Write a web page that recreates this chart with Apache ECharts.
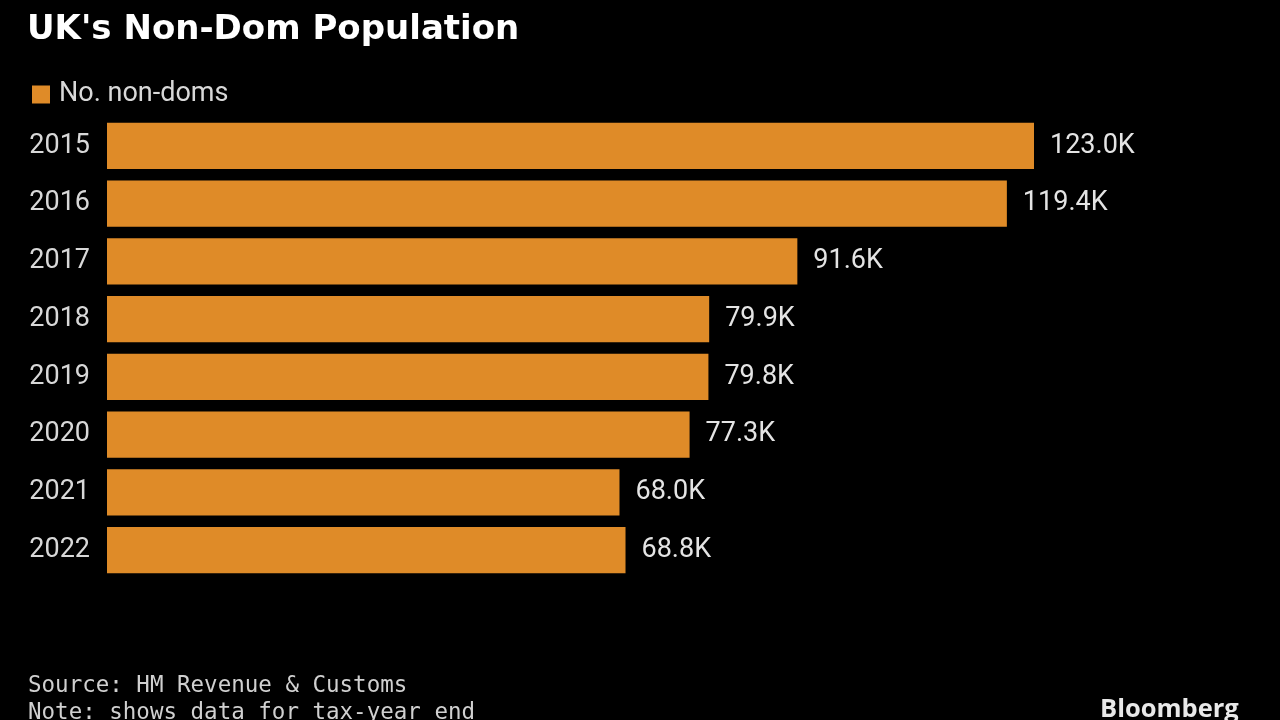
<!DOCTYPE html>
<html><head><meta charset="utf-8">
<script src="https://cdn.jsdelivr.net/npm/echarts@6/dist/echarts.min.js"></script>
<style>html,body{margin:0;padding:0;background:#000;}#c{width:1280px;height:720px;}</style>
</head><body><div id="c"></div>
<script>
const categories = ['2015','2016','2017','2018','2019','2020','2021','2022'];
const nonDoms = [123.0, 119.4, 91.6, 79.9, 79.8, 77.3, 68.0, 68.8];
const seriesName = 'No. non-doms';

const chart = echarts.init(document.getElementById('c'));
const labelFont = 'Roboto, "Liberation Sans", sans-serif';
chart.setOption({
  backgroundColor: '#000',
  animation: false,
  title: [{
    text: "UK's Non-Dom Population",
    left: 22, top: 8,
    textStyle: {color: '#fff', fontSize: 34, fontWeight: 'bold', fontFamily: '"DejaVu Sans", sans-serif'}
  }, {
    text: 'Source: HM Revenue & Customs\nNote: shows data for tax-year end',
    left: 23, top: 668,
    textStyle: {color: '#d0d0d0', fontSize: 22.5, fontWeight: 'normal', lineHeight: 27, fontFamily: '"DejaVu Sans Mono", monospace'}
  }, {
    text: 'Bloomberg',
    left: 1095, top: 692,
    textStyle: {color: '#e8e8e8', fontSize: 25.5, fontWeight: 'bold', fontFamily: '"Open Sans", "DejaVu Sans", sans-serif'}
  }],
  legend: {
    left: 27, top: 76,
    itemWidth: 18, itemHeight: 18, itemGap: 10,
    icon: 'rect',
    textStyle: {color: '#d8d8d8', fontSize: 27, fontFamily: labelFont, padding: [0, 0, 0, 4]},
    data: [seriesName]
  },
  grid: {left: 107, right: 246, top: 117, height: 462},
  xAxis: {
    type: 'value', min: 0, max: 123,
    show: false
  },
  yAxis: {
    type: 'category', data: categories, inverse: true,
    axisLine: {show: false}, axisTick: {show: false}, splitLine: {show: false},
    axisLabel: {color: '#d8d8d8', fontSize: 27, margin: 17, fontFamily: labelFont}
  },
  series: [{
    name: seriesName,
    type: 'bar',
    data: nonDoms,
    barCategoryGap: '20%',
    itemStyle: {color: '#DF8B28'},
    label: {
      show: true, position: 'right', distance: 16,
      color: '#e4e4e4', fontSize: 27, fontFamily: labelFont,
      formatter: p => p.value.toFixed(1) + 'K'
    }
  }]
});
</script></body></html>
